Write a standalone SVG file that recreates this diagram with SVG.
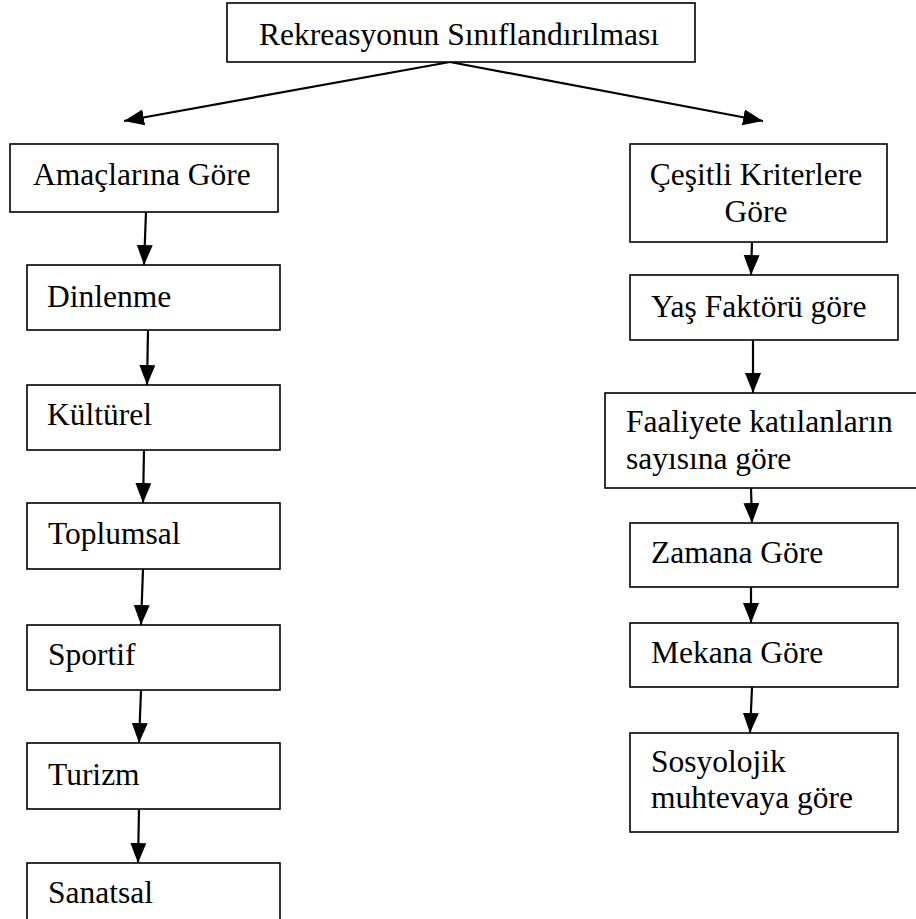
<svg xmlns="http://www.w3.org/2000/svg" width="916" height="919" viewBox="0 0 916 919">
<defs>
<style>
.box{fill:#fff;stroke:#000;stroke-width:1.6}
.t{font-family:"Liberation Serif","Times New Roman",serif;font-size:31.5px;fill:#000}
.c{stroke:#000;stroke-width:2.2;fill:none}
</style>
<marker id="ah" markerUnits="userSpaceOnUse" markerWidth="22" markerHeight="18" refX="20" refY="8" orient="auto">
<path d="M0,0 L20,8 L0,16 z" fill="#000"/>
</marker>
</defs>
<rect width="916" height="919" fill="#fff"/>
<g id="connectors">
<line class="c" x1="450" y1="62" x2="124" y2="121" marker-end="url(#ah)"/>
<line class="c" x1="450" y1="62" x2="763" y2="121" marker-end="url(#ah)"/>
<line class="c" x1="146" y1="212" x2="144" y2="265" marker-end="url(#ah)"/>
<line class="c" x1="148" y1="330" x2="147" y2="385" marker-end="url(#ah)"/>
<line class="c" x1="144" y1="450" x2="143" y2="503" marker-end="url(#ah)"/>
<line class="c" x1="143" y1="569" x2="141" y2="625" marker-end="url(#ah)"/>
<line class="c" x1="141" y1="690" x2="139" y2="743" marker-end="url(#ah)"/>
<line class="c" x1="139" y1="809" x2="138" y2="863" marker-end="url(#ah)"/>
<line class="c" x1="752" y1="242" x2="751" y2="275" marker-end="url(#ah)"/>
<line class="c" x1="753" y1="340" x2="753" y2="393" marker-end="url(#ah)"/>
<line class="c" x1="751" y1="488" x2="752" y2="523" marker-end="url(#ah)"/>
<line class="c" x1="751" y1="587" x2="751" y2="623" marker-end="url(#ah)"/>
<line class="c" x1="752" y1="687" x2="750" y2="733" marker-end="url(#ah)"/>
</g>
<g id="root"><rect class="box" x="227" y="3" width="468" height="59"/><text class="t" x="459" y="45" text-anchor="middle">Rekreasyonun Sınıflandırılması</text></g>
<g id="amac"><rect class="box" x="10" y="144" width="268" height="68"/><text class="t" x="33" y="185">Amaçlarına Göre</text></g>
<g id="dinlenme"><rect class="box" x="27" y="265" width="253" height="65"/><text class="t" x="47" y="307">Dinlenme</text></g>
<g id="kulturel"><rect class="box" x="27" y="385" width="253" height="65"/><text class="t" x="47" y="425">Kültürel</text></g>
<g id="toplumsal"><rect class="box" x="27" y="503" width="253" height="66"/><text class="t" x="48" y="544">Toplumsal</text></g>
<g id="sportif"><rect class="box" x="27" y="625" width="253" height="65"/><text class="t" x="48" y="665">Sportif</text></g>
<g id="turizm"><rect class="box" x="27" y="743" width="253" height="66"/><text class="t" x="48" y="785">Turizm</text></g>
<g id="sanatsal"><rect class="box" x="27" y="863" width="253" height="70"/><text class="t" x="48" y="903">Sanatsal</text></g>
<g id="cesitli"><rect class="box" x="630" y="144" width="257" height="98"/><text class="t" x="756" y="185" text-anchor="middle">Çeşitli Kriterlere</text><text class="t" x="756" y="222" text-anchor="middle">Göre</text></g>
<g id="yas"><rect class="box" x="630" y="275" width="268" height="65"/><text class="t" x="651" y="317">Yaş Faktörü göre</text></g>
<g id="faaliyete"><rect class="box" x="605" y="393" width="330" height="95"/><text class="t" x="626" y="432">Faaliyete katılanların</text><text class="t" x="626" y="469">sayısına göre</text></g>
<g id="zamana"><rect class="box" x="630" y="523" width="268" height="64"/><text class="t" x="651" y="563">Zamana Göre</text></g>
<g id="mekana"><rect class="box" x="630" y="623" width="268" height="64"/><text class="t" x="651" y="663">Mekana Göre</text></g>
<g id="sosyolojik"><rect class="box" x="630" y="733" width="268" height="99"/><text class="t" x="651" y="772">Sosyolojik</text><text class="t" x="651" y="808">muhtevaya göre</text></g>
</svg>
